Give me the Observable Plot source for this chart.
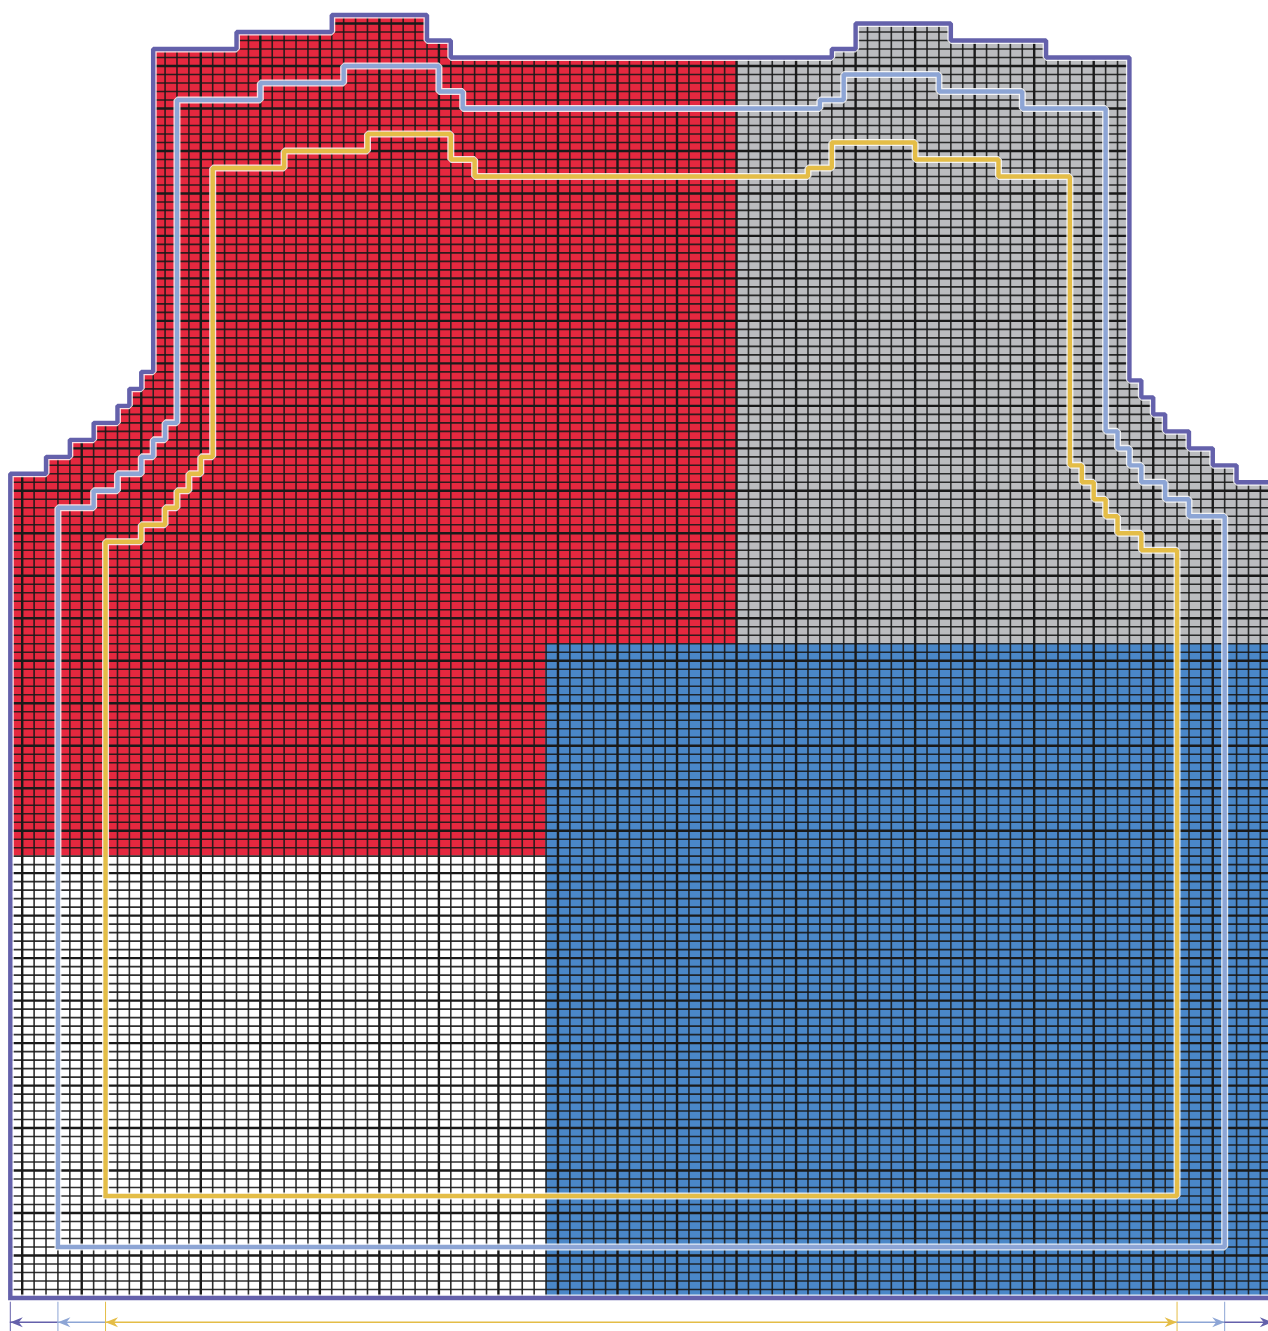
<!DOCTYPE html>
<html><head><meta charset="utf-8">
<script src="https://cdn.jsdelivr.net/npm/d3@7"></script>
<script src="https://cdn.jsdelivr.net/npm/@observablehq/plot@0.6"></script>
<style>html,body{margin:0;padding:0;background:#fff;overflow:hidden}</style>
</head><body><div id="chart"></div>
<script>
// ---------- DATA (grid units: columns from left, rows from bottom) ----------
const sizeNames = ["large", "medium", "small"];

// outer (large) outline: column where each step starts, and the row height of that step
const largeStart = [0, 3, 5, 7, 9, 10, 11, 12, 19, 27, 35, 37, 69, 71, 79, 87, 94, 95, 96, 97, 99, 101, 103];
const largeTop   = [97, 99, 101, 103, 105, 107, 109, 147, 149, 151, 148, 146, 147, 150, 148, 146, 108, 106, 104, 102, 100, 98, 96];
const largeEnd = 106, largeBottom = 0;

// medium outline
const mediumStart = [4, 7, 9, 11, 12, 13, 14, 21, 28, 36, 38, 68, 70, 78, 85, 92, 93, 94, 95, 97, 99];
const mediumTop   = [93, 95, 97, 99, 101, 103, 141, 143, 145, 142, 140, 141, 144, 142, 140, 102, 100, 98, 96, 94, 92];
const mediumEnd = 102, mediumBottom = 6;

// small outline
const smallStart = [8, 11, 13, 14, 15, 16, 17, 23, 30, 37, 39, 67, 69, 76, 83, 89, 90, 91, 92, 93, 95];
const smallTop   = [89, 91, 93, 95, 97, 99, 133, 135, 137, 134, 132, 133, 136, 134, 132, 98, 96, 94, 92, 90, 88];
const smallEnd = 98, smallBottom = 12;

// colour blocks of the motif
const zoneName = ["red", "red", "grey", "blue", "white"];
const zoneCol1 = [0, 0, 61, 45, 0];
const zoneCol2 = [61, 45, 106, 106, 45];
const zoneRow1 = [77, 52, 77, 0, 0];
const zoneRow2 = [999, 77, 999, 77, 52];

// width markers under the chart
const markerStops = [0, 4, 8, 98, 102, 106];
const markerSize  = ["large", "medium", "small", "medium", "large"];

// ---------- STYLE ----------
const zoneFill = {red: "#e5283f", grey: "#bbbcbf", blue: "#4a87c8", white: "#ffffff"};
const sizeColor = {large: "#6461ab", medium: "#8da5d5", small: "#e4bd47"};

// ---------- BUILD ----------
function runsOf(starts, tops, end) {
  return starts.map((s, i) => ({x1: s, x2: i + 1 < starts.length ? starts[i + 1] : end, top: tops[i]}));
}
const largeRuns = runsOf(largeStart, largeTop, largeEnd);
const heightAt = c => { const r = largeRuns.find(d => c >= d.x1 && c < d.x2); return r ? r.top : 0; };

const fills = [];
for (const run of largeRuns) {
  zoneName.forEach((z, i) => {
    const xa = Math.max(run.x1, zoneCol1[i]), xb = Math.min(run.x2, zoneCol2[i]);
    const ya = zoneRow1[i], yb = Math.min(zoneRow2[i], run.top);
    if (xa < xb && ya < yb) fills.push({x1: xa, x2: xb, y1: ya, y2: yb, zone: z});
  });
}

const hLines = [];
const maxTop = d3.max(largeTop);
for (let r = 1; r <= maxTop; r++) {
  let s = null;
  for (let c = 0; c <= largeEnd; c++) {
    const ok = c < largeEnd && heightAt(c) >= r;
    if (ok && s === null) s = c;
    if (!ok && s !== null) { hLines.push({y: r, x1: s, x2: c, thick: r % 5 === 0}); s = null; }
  }
}
const vLines = [];
for (let c = 0; c <= largeEnd; c++) {
  const top = Math.max(heightAt(c - 1), c < largeEnd ? heightAt(c) : 0);
  vLines.push({x: c, y1: 0, y2: top, thick: c % 5 === 1});
}

function outline(starts, tops, end, bottom, size) {
  const runs = runsOf(starts, tops, end);
  const pts = [{x: starts[0], y: bottom}];
  runs.forEach(r => { pts.push({x: r.x1, y: r.top}); pts.push({x: r.x2, y: r.top}); });
  pts.push({x: end, y: bottom});
  pts.push({x: starts[0], y: bottom});
  pts.forEach(p => p.size = size);
  return pts;
}
const outlines = [
  ...outline(largeStart, largeTop, largeEnd, largeBottom, "large"),
  ...outline(mediumStart, mediumTop, mediumEnd, mediumBottom, "medium"),
  ...outline(smallStart, smallTop, smallEnd, smallBottom, "small")
];

const arrowY = -2.85;
const segs = markerSize.map((s, i) => ({x1: markerStops[i], x2: markerStops[i + 1], size: s}));
const ticks = markerStops.map((x, i) => ({x, size: i < 3 ? markerSize[i] : markerSize[i - 1]}));
const mid = markerStops.length / 2;
const headsLeft = markerStops.slice(0, mid).map((x, i) => ({x, size: markerSize[i]}));
const headsRight = markerStops.slice(mid).map((x, i) => ({x, size: markerSize[mid - 1 + i]}));

const arrowRight = {draw(ctx, size) { const s = Math.sqrt(size / Math.PI) / 6;
  ctx.moveTo(0, 0); ctx.lineTo(-12.5 * s, -5 * s); ctx.lineTo(-8.5 * s, 0); ctx.lineTo(-12.5 * s, 5 * s); ctx.closePath(); }};
const arrowLeft = {draw(ctx, size) { const s = Math.sqrt(size / Math.PI) / 6;
  ctx.moveTo(0, 0); ctx.lineTo(12.5 * s, -5 * s); ctx.lineTo(8.5 * s, 0); ctx.lineTo(12.5 * s, 5 * s); ctx.closePath(); }};

const lineMarks = size => [
  Plot.line(outlines.filter(d => d.size === size), {x: "x", y: "y", stroke: "white", strokeWidth: 7, strokeOpacity: 0.85, strokeLinejoin: "miter", strokeLinecap: "square"}),
  Plot.line(outlines.filter(d => d.size === size), {x: "x", y: "y", stroke: sizeColor[size], strokeWidth: 4.4, strokeLinejoin: "miter", strokeLinecap: "square"})
];

const chart = Plot.plot({
  width: 1268, height: 1331, margin: 0,
  x: {domain: [0, 106], range: [9.8, 1271.8], axis: null},
  y: {domain: [0, 151], range: [1297.5, 14.5], axis: null},
  marks: [
    Plot.rect(fills, {x1: "x1", x2: "x2", y1: "y1", y2: "y2", fill: d => zoneFill[d.zone]}),
    Plot.ruleY(hLines.filter(d => !d.thick), {y: "y", x1: "x1", x2: "x2", stroke: "#1a1a1a", strokeWidth: 1.6, strokeOpacity: 0.9}),
    Plot.ruleX(vLines.filter(d => !d.thick), {x: "x", y1: "y1", y2: "y2", stroke: "#1a1a1a", strokeWidth: 1.6, strokeOpacity: 0.9}),
    Plot.ruleY(hLines.filter(d => d.thick), {y: "y", x1: "x1", x2: "x2", stroke: "#1a1a1a", strokeWidth: 2.4}),
    Plot.ruleX(vLines.filter(d => d.thick), {x: "x", y1: "y1", y2: "y2", stroke: "#1a1a1a", strokeWidth: 2.4}),
    ...lineMarks("large"), ...lineMarks("medium"), ...lineMarks("small"),
    Plot.ruleX(ticks, {x: "x", y1: -0.5, y2: -4.2, stroke: d => sizeColor[d.size], strokeWidth: 1}),
    Plot.ruleY(segs, {y: arrowY, x1: "x1", x2: "x2", stroke: d => sizeColor[d.size], strokeWidth: 1.4}),
    Plot.dot(headsLeft, {x: "x", y: arrowY, r: 6, symbol: arrowLeft, fill: d => sizeColor[d.size], stroke: "none"}),
    Plot.dot(headsRight, {x: "x", y: arrowY, r: 6, symbol: arrowRight, fill: d => sizeColor[d.size], stroke: "none"})
  ]
});
document.getElementById("chart").append(chart);
</script>
</body></html>
